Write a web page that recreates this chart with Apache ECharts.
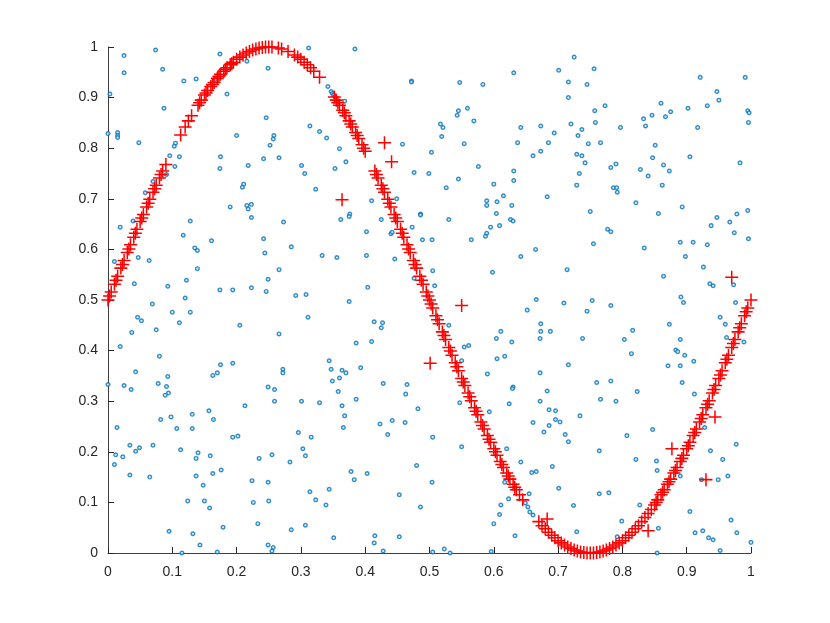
<!DOCTYPE html>
<html>
<head>
<meta charset="utf-8">
<script src="https://cdn.jsdelivr.net/npm/echarts@6/dist/echarts.min.js"></script>
<style>
html,body{margin:0;padding:0;background:#fff;}
#chart{width:830px;height:623px;}
</style>
</head>
<body>
<div id="chart"></div>
<script>
// tick labels
const xTicks = ['0','0.1','0.2','0.3','0.4','0.5','0.6','0.7','0.8','0.9','1'];
const yTicks = ['0','0.1','0.2','0.3','0.4','0.5','0.6','0.7','0.8','0.9','1'];

// all sample points (blue open circles)
const samplePoints = [
[0.025,0.983],[0.074,0.994],[0.025,0.949],[0.085,0.956],[0.174,0.986],[0.216,0.972],[0.249,0.958],
[0.118,0.933],[0.137,0.937],[0.167,0.936],[0.003,0.907],[0.185,0.907],[0.087,0.879],[0.246,0.860],
[0.0,0.829],[0.015,0.831],[0.015,0.825],[0.015,0.821],[0.048,0.811],[0.105,0.810],[0.103,0.804],
[0.2,0.825],[0.252,0.806],[0.096,0.785],[0.111,0.783],[0.175,0.783],[0.174,0.760],[0.242,0.779],
[0.104,0.764],[0.218,0.766],[0.091,0.748],[0.070,0.734],[0.211,0.729],[0.209,0.723],[0.058,0.712],
[0.190,0.684],[0.216,0.687],[0.223,0.689],[0.218,0.680],
[0.312,0.998],[0.384,0.996],[0.472,0.933],[0.472,0.931],[0.342,0.922],[0.347,0.912],[0.349,0.908],
[0.351,0.905],[0.353,0.901],[0.357,0.893],[0.368,0.893],[0.314,0.844],[0.329,0.833],[0.340,0.820],
[0.258,0.825],[0.257,0.818],[0.360,0.799],[0.370,0.773],[0.266,0.781],[0.301,0.766],[0.306,0.750],
[0.353,0.760],[0.458,0.808],[0.503,0.792],[0.476,0.752],[0.499,0.750],[0.323,0.719],[0.449,0.700],
[0.410,0.696],[0.376,0.670],[0.486,0.670],
[0.725,0.980],[0.631,0.949],[0.701,0.954],[0.756,0.957],[0.547,0.930],[0.583,0.926],[0.716,0.931],
[0.745,0.926],[0.716,0.900],[0.559,0.879],[0.545,0.874],[0.543,0.865],[0.569,0.854],[0.517,0.848],
[0.521,0.841],[0.519,0.823],[0.554,0.809],[0.642,0.841],[0.673,0.844],[0.694,0.830],[0.685,0.811],
[0.637,0.811],[0.673,0.794],[0.661,0.785],[0.720,0.848],[0.737,0.837],[0.731,0.825],[0.757,0.874],
[0.758,0.851],[0.747,0.809],[0.729,0.788],[0.737,0.785],[0.742,0.771],[0.733,0.750],[0.729,0.727],
[0.576,0.764],[0.545,0.739],[0.526,0.722],[0.631,0.755],[0.631,0.736],[0.600,0.729],[0.615,0.706],
[0.589,0.696],[0.589,0.687],[0.605,0.694],[0.628,0.687],[0.683,0.704],[0.604,0.671],[0.750,0.675],
[0.921,0.940],[0.991,0.940],[0.947,0.912],[0.950,0.895],[0.773,0.884],[0.860,0.889],[0.875,0.872],
[0.867,0.862],[0.846,0.865],[0.833,0.858],[0.836,0.844],[0.902,0.879],[0.932,0.884],[0.917,0.841],
[0.995,0.874],[0.997,0.870],[0.996,0.851],[0.797,0.841],[0.766,0.811],[0.851,0.806],[0.847,0.781],
[0.905,0.783],[0.983,0.771],[0.790,0.769],[0.782,0.762],[0.828,0.758],[0.840,0.745],[0.864,0.767],
[0.873,0.755],[0.862,0.727],[0.786,0.722],[0.791,0.722],[0.792,0.713],[0.821,0.692],[0.893,0.684],
[0.856,0.671],[0.995,0.677],[0.978,0.670],
[0.019,0.644],[0.039,0.656],[0.128,0.656],[0.223,0.663],[0.117,0.628],[0.161,0.617],[0.242,0.621],
[0.244,0.593],[0.135,0.603],[0.139,0.598],[0.010,0.576],[0.047,0.584],[0.064,0.578],[0.139,0.562],
[0.041,0.532],[0.093,0.527],[0.122,0.539],[0.249,0.541],[0.174,0.520],[0.194,0.520],[0.223,0.524],
[0.246,0.517],[0.120,0.504],[0.069,0.492],[0.100,0.476],[0.128,0.476],[0.046,0.466],[0.052,0.459],
[0.111,0.455],[0.075,0.441],[0.037,0.436],[0.205,0.450],[0.019,0.408],[0.080,0.389],[0.043,0.358],
[0.093,0.349],[0.175,0.372],[0.194,0.375],[0.163,0.351],[0.170,0.356],[0.0,0.333],[0.025,0.331],
[0.078,0.335],[0.091,0.329],[0.249,0.328],
[0.273,0.654],[0.362,0.659],[0.375,0.665],[0.425,0.659],[0.486,0.668],[0.402,0.635],[0.440,0.631],
[0.442,0.634],[0.473,0.644],[0.489,0.619],[0.504,0.619],[0.285,0.605],[0.333,0.588],[0.356,0.584],
[0.402,0.588],[0.446,0.581],[0.266,0.560],[0.476,0.543],[0.505,0.558],[0.404,0.525],[0.292,0.509],
[0.308,0.511],[0.375,0.497],[0.311,0.466],[0.266,0.433],[0.414,0.457],[0.427,0.455],[0.425,0.445],
[0.386,0.415],[0.410,0.418],[0.344,0.380],[0.272,0.363],[0.272,0.356],[0.347,0.363],[0.364,0.361],
[0.370,0.356],[0.393,0.366],[0.360,0.346],[0.349,0.340],[0.428,0.335],[0.465,0.333],
[0.530,0.659],[0.626,0.659],[0.630,0.656],[0.595,0.644],[0.609,0.647],[0.589,0.632],[0.587,0.626],
[0.565,0.619],[0.755,0.611],[0.665,0.600],[0.642,0.586],[0.714,0.560],[0.598,0.555],[0.508,0.528],
[0.666,0.501],[0.709,0.494],[0.753,0.499],[0.652,0.480],[0.745,0.478],[0.530,0.450],[0.673,0.453],
[0.673,0.438],[0.688,0.438],[0.611,0.438],[0.604,0.424],[0.628,0.417],[0.672,0.424],[0.738,0.424],
[0.554,0.407],[0.561,0.410],[0.605,0.384],[0.617,0.389],[0.550,0.380],[0.716,0.372],[0.590,0.354],
[0.672,0.356],[0.630,0.328],[0.760,0.337],
[0.947,0.663],[0.938,0.647],[0.967,0.654],[0.777,0.640],[0.782,0.635],[0.974,0.633],[0.996,0.621],
[0.890,0.614],[0.910,0.614],[0.932,0.609],[0.834,0.603],[0.898,0.586],[0.926,0.565],[0.864,0.547],
[0.936,0.532],[0.941,0.528],[0.973,0.530],[0.891,0.506],[0.895,0.495],[0.782,0.489],[0.976,0.495],
[0.952,0.466],[0.960,0.452],[0.873,0.452],[0.816,0.440],[0.803,0.422],[0.890,0.422],[0.962,0.426],
[0.989,0.417],[0.883,0.401],[0.886,0.398],[0.897,0.391],[0.911,0.379],[0.814,0.394],[0.871,0.370],
[0.890,0.370],[0.782,0.340],[0.893,0.337],
[0.036,0.323],[0.094,0.316],[0.089,0.312],[0.213,0.291],[0.157,0.281],[0.131,0.274],[0.164,0.264],
[0.082,0.264],[0.098,0.269],[0.014,0.248],[0.107,0.246],[0.131,0.246],[0.194,0.229],[0.202,0.231],
[0.034,0.213],[0.049,0.208],[0.043,0.201],[0.070,0.213],[0.113,0.204],[0.012,0.194],[0.023,0.190],
[0.010,0.175],[0.140,0.198],[0.137,0.187],[0.159,0.192],[0.235,0.187],[0.034,0.154],[0.065,0.150],
[0.137,0.152],[0.163,0.157],[0.176,0.164],[0.148,0.134],[0.224,0.143],[0.249,0.140],[0.124,0.103],
[0.150,0.103],[0.158,0.089],[0.226,0.100],[0.250,0.103],[0.233,0.058],[0.095,0.043],[0.132,0.038],
[0.179,0.051],[0.143,0.016],[0.115,0.0],[0.170,0.002],[0.249,0.016],
[0.259,0.323],[0.358,0.319],[0.463,0.314],[0.259,0.300],[0.301,0.300],[0.329,0.297],[0.364,0.291],
[0.386,0.304],[0.482,0.285],[0.368,0.271],[0.366,0.248],[0.423,0.255],[0.442,0.262],[0.462,0.258],
[0.435,0.234],[0.296,0.238],[0.316,0.229],[0.505,0.229],[0.303,0.206],[0.307,0.192],[0.255,0.194],
[0.283,0.180],[0.480,0.173],[0.378,0.161],[0.383,0.145],[0.403,0.157],[0.504,0.140],[0.314,0.121],
[0.344,0.126],[0.323,0.105],[0.339,0.095],[0.453,0.115],[0.486,0.091],[0.285,0.046],[0.307,0.055],
[0.351,0.030],[0.415,0.034],[0.414,0.020],[0.453,0.032],[0.428,0.004],[0.257,0.011],[0.255,0.004],
[0.505,0.002],
[0.629,0.325],[0.683,0.320],[0.547,0.297],[0.624,0.295],[0.672,0.300],[0.593,0.279],[0.686,0.283],
[0.696,0.281],[0.696,0.264],[0.703,0.259],[0.734,0.271],[0.661,0.258],[0.686,0.252],[0.678,0.239],
[0.711,0.234],[0.716,0.220],[0.550,0.210],[0.620,0.206],[0.642,0.180],[0.691,0.171],[0.659,0.159],
[0.666,0.161],[0.617,0.140],[0.623,0.107],[0.701,0.128],[0.655,0.117],[0.611,0.095],[0.609,0.076],
[0.724,0.094],[0.600,0.058],[0.633,0.034],[0.729,0.042],[0.523,0.008],[0.532,0.0],[0.596,0.003],
[0.649,0.099],[0.653,0.091],[0.656,0.081],[0.661,0.075],
[0.766,0.304],[0.790,0.300],[0.823,0.319],[0.912,0.314],[0.847,0.244],[0.807,0.232],[0.928,0.248],
[0.977,0.215],[0.764,0.202],[0.937,0.202],[0.956,0.185],[0.821,0.185],[0.853,0.182],[0.854,0.163],
[0.890,0.152],[0.923,0.145],[0.949,0.145],[0.964,0.152],[0.764,0.117],[0.779,0.119],[0.827,0.095],
[0.905,0.082],[0.969,0.065],[0.799,0.063],[0.856,0.049],[0.913,0.040],[0.925,0.044],[0.978,0.040],
[0.934,0.030],[0.941,0.026],[1.0,0.021],[0.792,0.032],[0.952,0.005],[0.854,0.0]
];

// points marked as lying on the curve (red plus)
const curveMarks = [
[0,0.5],[0.0025,0.508],[0.005,0.516],[0.01,0.531],[0.0125,0.539],[0.015,0.547],[0.02,0.563],[0.0225,0.57],
[0.025,0.578],[0.03,0.594],[0.0325,0.601],[0.035,0.609],[0.04,0.624],[0.0425,0.632],[0.045,0.64],[0.05,0.655],
[0.0525,0.662],[0.055,0.669],[0.06,0.684],[0.0625,0.691],[0.065,0.699],[0.07,0.713],[0.0725,0.72],[0.075,0.727],
[0.08,0.741],[0.0825,0.748],[0.085,0.755],[0.09,0.768],
[0.113,0.826],[0.12,0.842],[0.125,0.854],[0.13,0.864],[0.14,0.885],[0.1425,0.89],[0.145,0.895],[0.15,0.905],
[0.1525,0.909],[0.155,0.914],[0.16,0.922],[0.1625,0.926],[0.165,0.93],[0.17,0.938],[0.1725,0.942],[0.175,0.946],
[0.18,0.952],[0.1825,0.956],[0.185,0.959],[0.19,0.965],[0.1925,0.967],[0.195,0.97],
[0.2,0.976],[0.205,0.98],[0.21,0.984],[0.215,0.988],[0.22,0.991],[0.225,0.994],[0.23,0.996],[0.235,0.998],
[0.24,0.999],[0.245,1],[0.25,1],
[0.255,1],[0.265,0.998],[0.27,0.996],[0.28,0.991],[0.29,0.984],[0.295,0.98],[0.3,0.976],[0.305,0.97],
[0.31,0.965],[0.315,0.959],[0.32,0.952],[0.329,0.94],
[0.352,0.901],[0.355,0.895],[0.3575,0.89],[0.36,0.885],[0.365,0.875],[0.3675,0.87],[0.37,0.864],[0.375,0.854],
[0.3775,0.848],[0.38,0.842],[0.385,0.831],[0.3875,0.825],[0.39,0.819],[0.395,0.807],[0.3975,0.8],[0.4,0.794],
[0.415,0.755],[0.4175,0.748],[0.42,0.741],[0.425,0.727],[0.4275,0.72],[0.43,0.713],[0.435,0.699],[0.4375,0.691],
[0.44,0.684],[0.445,0.669],[0.4475,0.662],[0.45,0.655],[0.455,0.64],[0.4575,0.632],[0.46,0.624],[0.465,0.609],
[0.4675,0.601],[0.47,0.594],[0.475,0.578],[0.4775,0.57],[0.48,0.563],[0.485,0.547],[0.4875,0.539],[0.49,0.531],
[0.495,0.516],[0.4975,0.508],[0.5,0.5],
[0.5025,0.492],[0.505,0.484],[0.51,0.469],[0.5125,0.461],[0.515,0.453],[0.52,0.437],[0.5225,0.43],[0.525,0.422],
[0.53,0.406],[0.5325,0.399],[0.535,0.391],[0.54,0.376],[0.5425,0.368],[0.545,0.36],[0.55,0.345],[0.5525,0.338],
[0.555,0.331],[0.56,0.316],[0.5625,0.309],[0.565,0.301],[0.57,0.287],[0.5725,0.28],[0.575,0.273],[0.58,0.259],
[0.5825,0.252],[0.585,0.245],[0.59,0.232],[0.5925,0.225],[0.595,0.219],[0.6,0.206],[0.6025,0.2],[0.605,0.193],
[0.61,0.181],[0.6125,0.175],[0.615,0.169],[0.62,0.158],[0.6225,0.152],[0.625,0.146],[0.63,0.136],[0.6325,0.13],
[0.635,0.125],[0.64,0.115],[0.645,0.105],
[0.67,0.062],[0.675,0.054],[0.68,0.048],[0.685,0.041],[0.69,0.035],[0.695,0.03],[0.7,0.024],[0.705,0.02],
[0.71,0.016],[0.715,0.012],[0.72,0.009],[0.725,0.006],[0.73,0.004],[0.735,0.002],[0.74,0.001],[0.745,0],
[0.75,0],[0.755,0],[0.76,0.001],[0.765,0.002],[0.77,0.004],[0.775,0.006],[0.78,0.009],[0.785,0.012],
[0.79,0.016],[0.795,0.02],[0.8,0.024],[0.805,0.03],[0.81,0.035],[0.815,0.041],[0.82,0.048],[0.825,0.054],
[0.83,0.062],[0.835,0.07],[0.84,0.078],[0.845,0.086],[0.85,0.095],[0.8525,0.1],[0.855,0.105],[0.86,0.115],
[0.8625,0.12],[0.865,0.125],[0.87,0.136],[0.8725,0.141],[0.875,0.146],[0.88,0.158],[0.8825,0.163],[0.885,0.169],
[0.89,0.181],[0.8925,0.187],[0.895,0.193],[0.9,0.206],[0.9025,0.212],[0.905,0.219],[0.91,0.232],[0.9125,0.238],
[0.915,0.245],[0.92,0.259],[0.9225,0.266],[0.925,0.273],[0.93,0.287],[0.9325,0.294],[0.935,0.301],[0.94,0.316],
[0.9425,0.323],[0.945,0.331],[0.95,0.345],[0.9525,0.352],[0.955,0.36],[0.96,0.376],[0.9625,0.383],[0.965,0.391],
[0.97,0.406],[0.9725,0.414],[0.975,0.422],[0.98,0.437],[0.9825,0.445],[0.985,0.453],[0.99,0.469],[0.9925,0.477],
[0.995,0.484],[1,0.5]
];

// red plus marks off the curve
const offCurveMarks = [
[0.364,0.698],[0.430,0.811],[0.441,0.773],[0.501,0.375],[0.550,0.489],[0.683,0.067],
[0.970,0.545],[0.877,0.206],[0.930,0.145],[0.944,0.269],[0.840,0.044]
];

const plusPath = 'path://M5.3,0h1.4v5.3h5.3v1.4h-5.3v5.3h-1.4v-5.3h-5.3v-1.4h5.3z';
const labelFont = {fontFamily:'Liberation Sans', fontSize:14, color:'#262626'};

function makeAxis(ticks, isX){
  return {
    type:'value', min:0, max:1, interval:0.1,
    axisLine:{show:true, onZero:false, lineStyle:{color:'#404040', width:1}},
    axisTick:{show:true, inside:true, length:6, lineStyle:{color:'#262626', width:1}},
    splitLine:{show:false},
    axisLabel:Object.assign({margin: isX ? 12 : 10,
      formatter:function(v){ return ticks[Math.round(v*10)]; }}, labelFont)
  };
}

const chart = echarts.init(document.getElementById('chart'), null, {renderer:'canvas'});
chart.setOption({
  animation:false,
  backgroundColor:'#ffffff',
  grid:{left:108, right:79, top:47, bottom:70, containLabel:false},
  xAxis: makeAxis(xTicks, true),
  yAxis: makeAxis(yTicks, false),
  series:[
    {type:'scatter', data:samplePoints, symbol:'circle', symbolSize:3.6,
     itemStyle:{color:'#d6e8f5', borderColor:'#0072BD', borderWidth:1.4}, z:2},
    {type:'scatter', data:curveMarks.concat(offCurveMarks), symbol:plusPath, symbolSize:13,
     itemStyle:{color:'#ff0000', opacity:1}, z:3}
  ]
});
</script>
</body>
</html>
